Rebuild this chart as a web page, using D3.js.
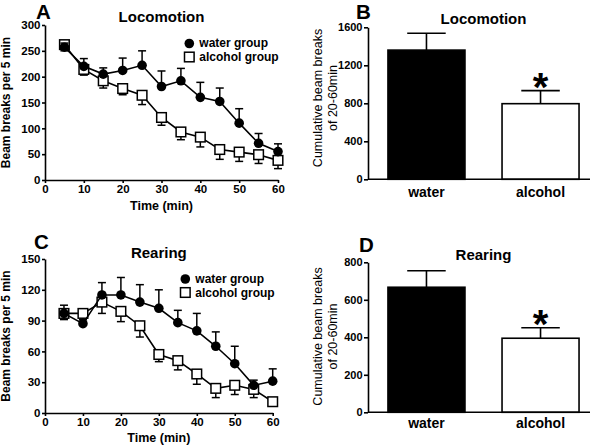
<!DOCTYPE html>
<html><head><meta charset="utf-8">
<script src="https://cdn.jsdelivr.net/npm/d3@7"></script>
<style>
body{margin:0;background:#fff}
text{font-family:"Liberation Sans",Arial,Helvetica,sans-serif}
</style>
</head><body>
<svg id="chart" width="600" height="446"></svg>
<script>
// ---------- data ----------
const times = [5,10,15,20,25,30,35,40,45,50,55,60];
const xTicks = [0,10,20,30,40,50,60];

const locoWater     = [257,220,205,212,222,181,192,160,152,110,71,55];
const locoWaterSem  = [8,15,12,24,28,30,24,29,26,28,19,15];
const locoAlcohol   = [262,214,192,177,164,121,93,83,59,54,49,38];
const locoAlcoholSem= [12,11,14,12,18,15,15,19,19,18,17,16];
const locoYTicks = [0,50,100,150,200,250,300];

const rearWater     = [97,87,115,115,108,102,88,80,65,48,27,31];
const rearWaterSem  = [8,2,12,17,17,18,12,17,14,17,5,12];
const rearAlcohol   = [97,97,108,99,85,57,51,38,24,27,23,11];
const rearAlcoholSem= [6,6,11,10,11,7,9,10,9,9,8,3];
const rearYTicks = [0,30,60,90,120,150];

const groups = ["water","alcohol"];
const seriesNames = ["water group","alcohol group"];
const cumLoco    = [1360, 796];
const cumLocoSem = [177, 137];
const cumLocoTicks = [0,400,800,1200,1600];
const cumRear    = [667, 395];
const cumRearSem = [88, 56];
const cumRearTicks = [0,200,400,600,800];

const svg = d3.select("#chart");
const FONT = '"Liberation Sans",Arial,Helvetica,sans-serif';

function styleAxis(g, fs){
  g.attr("font-family", FONT).attr("font-size", fs).attr("font-weight","bold");
  g.selectAll("path.domain").attr("stroke","#000").attr("stroke-width",1.6);
  g.selectAll(".tick line").attr("stroke","#000").attr("stroke-width",1.6);
  g.selectAll(".tick text").attr("fill","#000");
}

function linePanel(c){
  const x = d3.scaleLinear().domain([0,60]).range([c.x0,c.x1]);
  const y = d3.scaleLinear().domain([0,c.yMax]).range([c.yb,c.yt]);
  const g = svg.append("g");
  const ya = g.append("g").attr("transform",`translate(${c.x0},0)`)
    .call(d3.axisLeft(y).tickValues(c.yTicks).tickFormat(d3.format("d")).tickSize(3).tickSizeOuter(0).tickPadding(1.5));
  styleAxis(ya, 11.5);
  const xa = g.append("g").attr("transform",`translate(0,${c.yb})`)
    .call(d3.axisBottom(x).tickValues(xTicks).tickFormat(d3.format("d")).tickSize(3).tickSizeOuter(0).tickPadding(1.5));
  styleAxis(xa, 11.5);
  g.append("text").attr("x",c.letterX).attr("y",c.letterY).attr("font-size",20.5).attr("font-weight","bold").text(c.letter);
  g.append("text").attr("x",(c.x0+c.x1)/2).attr("y",c.titleY).attr("text-anchor","middle")
    .attr("font-size",15).attr("font-weight","bold").text(c.title);
  g.append("text").attr("transform",`translate(10,${(c.yt+c.yb)/2}) rotate(-90)`).attr("text-anchor","middle")
    .attr("font-size",12).attr("font-weight","bold").text("Beam breaks per 5 min");
  g.append("text").attr("x",(c.x0+c.x1)/2).attr("y",c.xlabY).attr("text-anchor","middle")
    .attr("font-size",12.5).attr("font-weight","bold").text("Time (min)");

  const line = d3.line().x((d,i)=>x(times[i])).y(d=>y(d));
  const cap = 4;
  const ga = g.append("g");
  times.forEach((t,i)=>{
    const yy = y(c.alc[i]-c.alcSem[i]);
    ga.append("line").attr("x1",x(t)).attr("x2",x(t)).attr("y1",y(c.alc[i])).attr("y2",yy).attr("stroke","#000").attr("stroke-width",1.5);
    ga.append("line").attr("x1",x(t)-cap).attr("x2",x(t)+cap).attr("y1",yy).attr("y2",yy).attr("stroke","#000").attr("stroke-width",1.5);
  });
  ga.append("path").datum(c.alc).attr("d",line).attr("fill","none").attr("stroke","#000").attr("stroke-width",1.6);
  ga.selectAll("rect").data(c.alc).join("rect")
    .attr("x",(d,i)=>x(times[i])-4.8).attr("y",d=>y(d)-4.8).attr("width",9.6).attr("height",9.6)
    .attr("fill","#fff").attr("stroke","#000").attr("stroke-width",1.5);
  const gw = g.append("g");
  times.forEach((t,i)=>{
    const yy = y(c.wat[i]+c.watSem[i]);
    gw.append("line").attr("x1",x(t)).attr("x2",x(t)).attr("y1",y(c.wat[i])).attr("y2",yy).attr("stroke","#000").attr("stroke-width",1.5);
    gw.append("line").attr("x1",x(t)-cap).attr("x2",x(t)+cap).attr("y1",yy).attr("y2",yy).attr("stroke","#000").attr("stroke-width",1.5);
  });
  gw.append("path").datum(c.wat).attr("d",line).attr("fill","none").attr("stroke","#000").attr("stroke-width",1.6);
  gw.selectAll("circle").data(c.wat).join("circle")
    .attr("cx",(d,i)=>x(times[i])).attr("cy",d=>y(d)).attr("r",4.8).attr("fill","#000");
  const lg = g.append("g");
  lg.append("circle").attr("cx",c.legX).attr("cy",c.legY).attr("r",4.8).attr("fill","#000");
  lg.append("rect").attr("x",c.legX-4.8).attr("y",c.legY+13.5-4.8).attr("width",9.6).attr("height",9.6)
    .attr("fill","#fff").attr("stroke","#000").attr("stroke-width",1.5);
  lg.append("text").attr("x",c.legX+10).attr("y",c.legY+3.8).attr("font-size",12).attr("font-weight","bold").text(seriesNames[0]);
  lg.append("text").attr("x",c.legX+10).attr("y",c.legY+17.8).attr("font-size",12).attr("font-weight","bold").text(seriesNames[1]);
}

function barPanel(c){
  const x = d3.scaleBand().domain(groups).range([368,599]).paddingInner(0.325).paddingOuter(0.175);
  const y = d3.scaleLinear().domain([0,c.yMax]).range([c.yb,c.yt]);
  const g = svg.append("g");
  groups.forEach((k,i)=>{
    const cx = x(k)+x.bandwidth()/2;
    const top = y(c.vals[i]+c.sem[i]);
    g.append("line").attr("x1",cx).attr("x2",cx).attr("y1",y(c.vals[i])).attr("y2",top).attr("stroke","#000").attr("stroke-width",1.6);
    g.append("line").attr("x1",cx-x.bandwidth()/4).attr("x2",cx+x.bandwidth()/4).attr("y1",top).attr("y2",top).attr("stroke","#000").attr("stroke-width",1.6);
  });
  g.selectAll("rect").data(c.vals).join("rect")
    .attr("x",(d,i)=>x(groups[i])).attr("y",d=>y(d)).attr("width",x.bandwidth()).attr("height",d=>y(0)-y(d))
    .attr("fill",(d,i)=>i===0?"#000":"#fff").attr("stroke","#000").attr("stroke-width",1.6);
  const ya = g.append("g").attr("transform","translate(368,0)")
    .call(d3.axisLeft(y).tickValues(c.yTicks).tickFormat(d3.format("d")).tickSize(4).tickSizeOuter(0).tickPadding(1.5));
  styleAxis(ya, 11);
  g.append("line").attr("x1",368).attr("x2",590).attr("y1",c.yb).attr("y2",c.yb).attr("stroke","#000").attr("stroke-width",1.6);
  groups.forEach((k)=>{
    g.append("text").attr("x",x(k)+x.bandwidth()/2).attr("y",c.catY).attr("text-anchor","middle")
      .attr("font-size",14).attr("font-weight","bold").text(k);
  });
  const a = x("alcohol")+x.bandwidth()/2;
  g.append("text").attr("x",a).attr("y",y(c.vals[1]+c.sem[1])+10).attr("text-anchor","middle")
    .attr("font-size",40).attr("font-weight","bold").text("*");
  g.append("text").attr("x",c.letterX).attr("y",c.letterY).attr("font-size",20.5).attr("font-weight","bold").text(c.letter);
  g.append("text").attr("x",483.5).attr("y",c.titleY).attr("text-anchor","middle")
    .attr("font-size",15).attr("font-weight","bold").text(c.title);
  const cy = c.labY;
  g.append("text").attr("transform",`translate(321.5,${cy}) rotate(-90)`).attr("text-anchor","middle")
    .attr("font-size",12.5).text("Cumulative beam breaks");
  g.append("text").attr("transform",`translate(336.5,${cy}) rotate(-90)`).attr("text-anchor","middle")
    .attr("font-size",12.5).text("of 20-60min");
}

linePanel({x0:45,x1:278,yt:25,yb:180,yMax:300,yTicks:locoYTicks,
  wat:locoWater,watSem:locoWaterSem,alc:locoAlcohol,alcSem:locoAlcoholSem,
  letter:"A",letterX:36,letterY:18.8,title:"Locomotion",titleY:21.7,xlabY:209.5,legX:189.3,legY:43.5});
linePanel({x0:45,x1:272.7,yt:259,yb:413,yMax:150,yTicks:rearYTicks,
  wat:rearWater,watSem:rearWaterSem,alc:rearAlcohol,alcSem:rearAlcoholSem,
  letter:"C",letterX:34,letterY:249,title:"Rearing",titleY:258.3,xlabY:442,legX:185.3,legY:279});
barPanel({yt:27.3,yb:179.3,yMax:1600,yTicks:cumLocoTicks,vals:cumLoco,sem:cumLocoSem,
  letter:"B",letterX:356,letterY:19,title:"Locomotion",titleY:24.3,catY:196.5,labY:98});
barPanel({yt:262.3,yb:412.3,yMax:800,yTicks:cumRearTicks,vals:cumRear,sem:cumRearSem,
  letter:"D",letterX:359,letterY:252,title:"Rearing",titleY:259.5,catY:428,labY:336.5});
</script>
</body></html>
